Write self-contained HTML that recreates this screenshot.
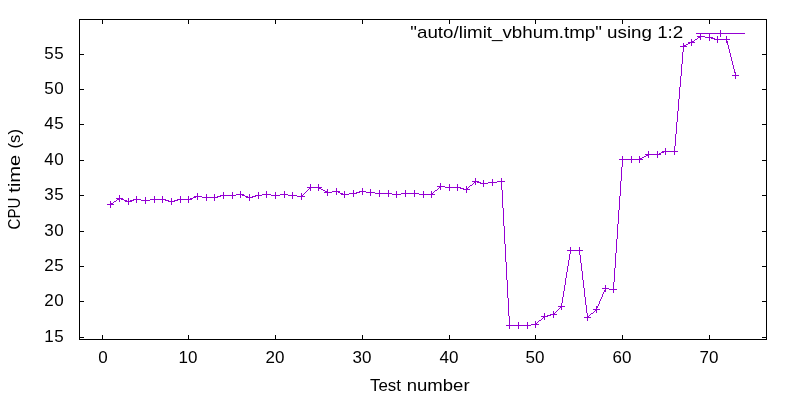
<!DOCTYPE html>
<html><head><meta charset="utf-8"><style>
html,body{margin:0;padding:0;background:#fff;}
svg{display:block;will-change:transform;}
text{font-family:"Liberation Sans",sans-serif;font-size:17px;fill:#000;}
</style></head><body>
<svg width="800" height="400" viewBox="0 0 800 400">
<rect width="800" height="400" fill="#fff"/>
<g shape-rendering="crispEdges" fill="none" stroke-width="1">
<path d="M79.5 19.5H766.5V339.5H79.5Z" stroke="#000"/>
<path d="M79 337.5h5M767 337.5h-5M79 301.5h5M767 301.5h-5M79 266.5h5M767 266.5h-5M79 231.5h5M767 231.5h-5M79 195.5h5M767 195.5h-5M79 160.5h5M767 160.5h-5M79 124.5h5M767 124.5h-5M79 89.5h5M767 89.5h-5M79 54.5h5M767 54.5h-5M102.5 340v-5M102.5 19v5M188.5 340v-5M188.5 19v5M275.5 340v-5M275.5 19v5M362.5 340v-5M362.5 19v5M449.5 340v-5M449.5 19v5M535.5 340v-5M535.5 19v5M622.5 340v-5M622.5 19v5M709.5 340v-5M709.5 19v5" stroke="#000"/>
</g>
<g><text x="44.3 54.3" y="341.85">15</text><text x="44.3 54.3" y="305.85">20</text><text x="44.3 54.3" y="270.85">25</text><text x="44.3 54.3" y="235.85">30</text><text x="44.3 54.3" y="199.85">35</text><text x="44.3 54.3" y="164.85">40</text><text x="44.3 54.3" y="128.85">45</text><text x="44.3 54.3" y="93.85">50</text><text x="44.3 54.3" y="58.85">55</text><text x="103.10" y="362.75" text-anchor="middle">0</text><text x="178.50 188.10" y="362.75">10</text><text x="265.50 275.10" y="362.75">20</text><text x="352.50 362.10" y="362.75">30</text><text x="439.50 449.10" y="362.75">40</text><text x="525.50 535.10" y="362.75">50</text><text x="612.50 622.10" y="362.75">60</text><text x="699.50 709.10" y="362.75">70</text></g>
<text x="370" y="390.7" textLength="31" lengthAdjust="spacingAndGlyphs">Test</text><text x="406.7" y="390.7" textLength="62.9" lengthAdjust="spacingAndGlyphs">number</text>
<text transform="translate(19.5,229.5) rotate(-90)" textLength="32" lengthAdjust="spacingAndGlyphs">CPU</text><text transform="translate(19.5,192.7) rotate(-90)" textLength="38" lengthAdjust="spacingAndGlyphs">time</text><text transform="translate(19.5,148.5) rotate(-90)" textLength="19.5" lengthAdjust="spacingAndGlyphs">(s)</text>
<text x="410.35" y="38" textLength="272.9" lengthAdjust="spacingAndGlyphs">"auto/limit_vbhum.tmp" using 1:2</text>
<g shape-rendering="crispEdges" fill="none" stroke="#9400d3" stroke-width="1">
<path d="M700 36h5v1h-5zM698 37h2v1h-2zM705 37h6v1h-6zM697 38h1v1h-1zM711 38h4v1h-4zM695 39h2v1h-2zM715 39h12v1h-12zM694 40h1v1h-1zM726 40h1v1h-1zM692 41h2v1h-2zM727 41h1v1h-1zM690 42h2v1h-2zM727 42h1v1h-1zM688 43h2v1h-2zM727 43h1v1h-1zM686 44h2v1h-2zM727 44h1v1h-1zM684 45h2v1h-2zM728 45h1v1h-1zM683 46h1v1h-1zM728 46h1v1h-1zM683 47h1v1h-1zM728 47h1v1h-1zM683 48h1v1h-1zM728 48h1v1h-1zM683 49h1v1h-1zM729 49h1v1h-1zM683 50h1v1h-1zM729 50h1v1h-1zM683 51h1v1h-1zM729 51h1v1h-1zM682 52h1v1h-1zM729 52h1v1h-1zM682 53h1v1h-1zM730 53h1v1h-1zM682 54h1v1h-1zM730 54h1v1h-1zM682 55h1v1h-1zM730 55h1v1h-1zM682 56h1v1h-1zM730 56h1v1h-1zM682 57h1v1h-1zM731 57h1v1h-1zM682 58h1v1h-1zM731 58h1v1h-1zM682 59h1v1h-1zM731 59h1v1h-1zM682 60h1v1h-1zM731 60h1v1h-1zM682 61h1v1h-1zM732 61h1v1h-1zM682 62h1v1h-1zM732 62h1v1h-1zM682 63h1v1h-1zM732 63h1v1h-1zM681 64h1v1h-1zM732 64h1v1h-1zM681 65h1v1h-1zM733 65h1v1h-1zM681 66h1v1h-1zM733 66h1v1h-1zM681 67h1v1h-1zM733 67h1v1h-1zM681 68h1v1h-1zM733 68h1v1h-1zM681 69h1v1h-1zM734 69h1v1h-1zM681 70h1v1h-1zM734 70h1v1h-1zM681 71h1v1h-1zM734 71h1v1h-1zM681 72h1v1h-1zM734 72h1v1h-1zM681 73h1v1h-1zM735 73h1v1h-1zM681 74h1v1h-1zM735 74h1v1h-1zM681 75h1v1h-1zM735 75h1v1h-1zM680 76h1v1h-1zM680 77h1v1h-1zM680 78h1v1h-1zM680 79h1v1h-1zM680 80h1v1h-1zM680 81h1v1h-1zM680 82h1v1h-1zM680 83h1v1h-1zM680 84h1v1h-1zM680 85h1v1h-1zM680 86h1v1h-1zM679 87h1v1h-1zM679 88h1v1h-1zM679 89h1v1h-1zM679 90h1v1h-1zM679 91h1v1h-1zM679 92h1v1h-1zM679 93h1v1h-1zM679 94h1v1h-1zM679 95h1v1h-1zM679 96h1v1h-1zM679 97h1v1h-1zM679 98h1v1h-1zM678 99h1v1h-1zM678 100h1v1h-1zM678 101h1v1h-1zM678 102h1v1h-1zM678 103h1v1h-1zM678 104h1v1h-1zM678 105h1v1h-1zM678 106h1v1h-1zM678 107h1v1h-1zM678 108h1v1h-1zM678 109h1v1h-1zM678 110h1v1h-1zM677 111h1v1h-1zM677 112h1v1h-1zM677 113h1v1h-1zM677 114h1v1h-1zM677 115h1v1h-1zM677 116h1v1h-1zM677 117h1v1h-1zM677 118h1v1h-1zM677 119h1v1h-1zM677 120h1v1h-1zM677 121h1v1h-1zM676 122h1v1h-1zM676 123h1v1h-1zM676 124h1v1h-1zM676 125h1v1h-1zM676 126h1v1h-1zM676 127h1v1h-1zM676 128h1v1h-1zM676 129h1v1h-1zM676 130h1v1h-1zM676 131h1v1h-1zM676 132h1v1h-1zM676 133h1v1h-1zM675 134h1v1h-1zM675 135h1v1h-1zM675 136h1v1h-1zM675 137h1v1h-1zM675 138h1v1h-1zM675 139h1v1h-1zM675 140h1v1h-1zM675 141h1v1h-1zM675 142h1v1h-1zM675 143h1v1h-1zM675 144h1v1h-1zM675 145h1v1h-1zM674 146h1v1h-1zM674 147h1v1h-1zM674 148h1v1h-1zM674 149h1v1h-1zM674 150h1v1h-1zM664 151h11v1h-11zM661 152h3v1h-3zM659 153h2v1h-2zM648 154h11v1h-11zM646 155h2v1h-2zM644 156h2v1h-2zM642 157h2v1h-2zM640 158h2v1h-2zM622 159h18v1h-18zM622 160h1v1h-1zM622 161h1v1h-1zM622 162h1v1h-1zM622 163h1v1h-1zM622 164h1v1h-1zM622 165h1v1h-1zM622 166h1v1h-1zM621 167h1v1h-1zM621 168h1v1h-1zM621 169h1v1h-1zM621 170h1v1h-1zM621 171h1v1h-1zM621 172h1v1h-1zM621 173h1v1h-1zM621 174h1v1h-1zM621 175h1v1h-1zM621 176h1v1h-1zM621 177h1v1h-1zM621 178h1v1h-1zM621 179h1v1h-1zM621 180h1v1h-1zM475 181h2v1h-2zM497 181h5v1h-5zM620 181h1v1h-1zM474 182h1v1h-1zM477 182h4v1h-4zM488 182h9v1h-9zM501 182h1v1h-1zM620 182h1v1h-1zM473 183h1v1h-1zM481 183h7v1h-7zM501 183h1v1h-1zM620 183h1v1h-1zM472 184h1v1h-1zM501 184h1v1h-1zM620 184h1v1h-1zM470 185h2v1h-2zM501 185h1v1h-1zM620 185h1v1h-1zM440 186h5v1h-5zM469 186h1v1h-1zM501 186h1v1h-1zM620 186h1v1h-1zM310 187h9v1h-9zM439 187h1v1h-1zM445 187h15v1h-15zM468 187h1v1h-1zM501 187h1v1h-1zM620 187h1v1h-1zM309 188h1v1h-1zM319 188h2v1h-2zM438 188h1v1h-1zM460 188h4v1h-4zM467 188h1v1h-1zM501 188h1v1h-1zM620 188h1v1h-1zM308 189h1v1h-1zM321 189h2v1h-2zM437 189h1v1h-1zM464 189h3v1h-3zM501 189h1v1h-1zM620 189h1v1h-1zM307 190h1v1h-1zM323 190h2v1h-2zM435 190h2v1h-2zM502 190h1v1h-1zM620 190h1v1h-1zM306 191h1v1h-1zM325 191h2v1h-2zM332 191h6v1h-6zM360 191h6v1h-6zM434 191h1v1h-1zM502 191h1v1h-1zM620 191h1v1h-1zM305 192h1v1h-1zM327 192h5v1h-5zM338 192h2v1h-2zM356 192h4v1h-4zM366 192h9v1h-9zM433 192h1v1h-1zM502 192h1v1h-1zM620 192h1v1h-1zM304 193h1v1h-1zM340 193h3v1h-3zM349 193h7v1h-7zM375 193h17v1h-17zM401 193h18v1h-18zM432 193h1v1h-1zM502 193h1v1h-1zM620 193h1v1h-1zM236 194h6v1h-6zM262 194h9v1h-9zM280 194h8v1h-8zM303 194h1v1h-1zM343 194h6v1h-6zM392 194h9v1h-9zM419 194h13v1h-13zM502 194h1v1h-1zM620 194h1v1h-1zM221 195h15v1h-15zM242 195h3v1h-3zM256 195h6v1h-6zM271 195h9v1h-9zM288 195h9v1h-9zM302 195h1v1h-1zM502 195h1v1h-1zM620 195h1v1h-1zM196 196h6v1h-6zM217 196h4v1h-4zM245 196h3v1h-3zM252 196h4v1h-4zM297 196h5v1h-5zM502 196h1v1h-1zM619 196h1v1h-1zM193 197h3v1h-3zM202 197h15v1h-15zM248 197h4v1h-4zM502 197h1v1h-1zM619 197h1v1h-1zM119 198h2v1h-2zM190 198h3v1h-3zM502 198h1v1h-1zM619 198h1v1h-1zM117 199h2v1h-2zM121 199h3v1h-3zM134 199h7v1h-7zM150 199h15v1h-15zM178 199h12v1h-12zM502 199h1v1h-1zM619 199h1v1h-1zM116 200h1v1h-1zM124 200h3v1h-3zM130 200h4v1h-4zM141 200h9v1h-9zM165 200h4v1h-4zM174 200h4v1h-4zM502 200h1v1h-1zM619 200h1v1h-1zM114 201h2v1h-2zM127 201h3v1h-3zM169 201h5v1h-5zM502 201h1v1h-1zM619 201h1v1h-1zM113 202h1v1h-1zM502 202h1v1h-1zM619 202h1v1h-1zM111 203h2v1h-2zM502 203h1v1h-1zM619 203h1v1h-1zM110 204h1v1h-1zM502 204h1v1h-1zM619 204h1v1h-1zM502 205h1v1h-1zM619 205h1v1h-1zM502 206h1v1h-1zM619 206h1v1h-1zM502 207h1v1h-1zM619 207h1v1h-1zM503 208h1v1h-1zM619 208h1v1h-1zM503 209h1v1h-1zM619 209h1v1h-1zM503 210h1v1h-1zM618 210h1v1h-1zM503 211h1v1h-1zM618 211h1v1h-1zM503 212h1v1h-1zM618 212h1v1h-1zM503 213h1v1h-1zM618 213h1v1h-1zM503 214h1v1h-1zM618 214h1v1h-1zM503 215h1v1h-1zM618 215h1v1h-1zM503 216h1v1h-1zM618 216h1v1h-1zM503 217h1v1h-1zM618 217h1v1h-1zM503 218h1v1h-1zM618 218h1v1h-1zM503 219h1v1h-1zM618 219h1v1h-1zM503 220h1v1h-1zM618 220h1v1h-1zM503 221h1v1h-1zM618 221h1v1h-1zM503 222h1v1h-1zM618 222h1v1h-1zM503 223h1v1h-1zM618 223h1v1h-1zM503 224h1v1h-1zM617 224h1v1h-1zM503 225h1v1h-1zM617 225h1v1h-1zM504 226h1v1h-1zM617 226h1v1h-1zM504 227h1v1h-1zM617 227h1v1h-1zM504 228h1v1h-1zM617 228h1v1h-1zM504 229h1v1h-1zM617 229h1v1h-1zM504 230h1v1h-1zM617 230h1v1h-1zM504 231h1v1h-1zM617 231h1v1h-1zM504 232h1v1h-1zM617 232h1v1h-1zM504 233h1v1h-1zM617 233h1v1h-1zM504 234h1v1h-1zM617 234h1v1h-1zM504 235h1v1h-1zM617 235h1v1h-1zM504 236h1v1h-1zM617 236h1v1h-1zM504 237h1v1h-1zM617 237h1v1h-1zM504 238h1v1h-1zM617 238h1v1h-1zM504 239h1v1h-1zM616 239h1v1h-1zM504 240h1v1h-1zM616 240h1v1h-1zM504 241h1v1h-1zM616 241h1v1h-1zM504 242h1v1h-1zM616 242h1v1h-1zM504 243h1v1h-1zM616 243h1v1h-1zM505 244h1v1h-1zM616 244h1v1h-1zM505 245h1v1h-1zM616 245h1v1h-1zM505 246h1v1h-1zM616 246h1v1h-1zM505 247h1v1h-1zM616 247h1v1h-1zM505 248h1v1h-1zM616 248h1v1h-1zM505 249h1v1h-1zM616 249h1v1h-1zM505 250h1v1h-1zM570 250h10v1h-10zM616 250h1v1h-1zM505 251h1v1h-1zM570 251h1v1h-1zM579 251h1v1h-1zM616 251h1v1h-1zM505 252h1v1h-1zM570 252h1v1h-1zM579 252h1v1h-1zM616 252h1v1h-1zM505 253h1v1h-1zM570 253h1v1h-1zM579 253h1v1h-1zM615 253h1v1h-1zM505 254h1v1h-1zM569 254h1v1h-1zM579 254h1v1h-1zM615 254h1v1h-1zM505 255h1v1h-1zM569 255h1v1h-1zM580 255h1v1h-1zM615 255h1v1h-1zM505 256h1v1h-1zM569 256h1v1h-1zM580 256h1v1h-1zM615 256h1v1h-1zM505 257h1v1h-1zM569 257h1v1h-1zM580 257h1v1h-1zM615 257h1v1h-1zM505 258h1v1h-1zM569 258h1v1h-1zM580 258h1v1h-1zM615 258h1v1h-1zM505 259h1v1h-1zM569 259h1v1h-1zM580 259h1v1h-1zM615 259h1v1h-1zM505 260h1v1h-1zM568 260h1v1h-1zM580 260h1v1h-1zM615 260h1v1h-1zM505 261h1v1h-1zM568 261h1v1h-1zM580 261h1v1h-1zM615 261h1v1h-1zM506 262h1v1h-1zM568 262h1v1h-1zM580 262h1v1h-1zM615 262h1v1h-1zM506 263h1v1h-1zM568 263h1v1h-1zM581 263h1v1h-1zM615 263h1v1h-1zM506 264h1v1h-1zM568 264h1v1h-1zM581 264h1v1h-1zM615 264h1v1h-1zM506 265h1v1h-1zM568 265h1v1h-1zM581 265h1v1h-1zM615 265h1v1h-1zM506 266h1v1h-1zM567 266h1v1h-1zM581 266h1v1h-1zM615 266h1v1h-1zM506 267h1v1h-1zM567 267h1v1h-1zM581 267h1v1h-1zM615 267h1v1h-1zM506 268h1v1h-1zM567 268h1v1h-1zM581 268h1v1h-1zM614 268h1v1h-1zM506 269h1v1h-1zM567 269h1v1h-1zM581 269h1v1h-1zM614 269h1v1h-1zM506 270h1v1h-1zM567 270h1v1h-1zM581 270h1v1h-1zM614 270h1v1h-1zM506 271h1v1h-1zM567 271h1v1h-1zM582 271h1v1h-1zM614 271h1v1h-1zM506 272h1v1h-1zM566 272h1v1h-1zM582 272h1v1h-1zM614 272h1v1h-1zM506 273h1v1h-1zM566 273h1v1h-1zM582 273h1v1h-1zM614 273h1v1h-1zM506 274h1v1h-1zM566 274h1v1h-1zM582 274h1v1h-1zM614 274h1v1h-1zM506 275h1v1h-1zM566 275h1v1h-1zM582 275h1v1h-1zM614 275h1v1h-1zM506 276h1v1h-1zM566 276h1v1h-1zM582 276h1v1h-1zM614 276h1v1h-1zM506 277h1v1h-1zM566 277h1v1h-1zM582 277h1v1h-1zM614 277h1v1h-1zM506 278h1v1h-1zM565 278h1v1h-1zM582 278h1v1h-1zM614 278h1v1h-1zM506 279h1v1h-1zM565 279h1v1h-1zM582 279h1v1h-1zM614 279h1v1h-1zM507 280h1v1h-1zM565 280h1v1h-1zM583 280h1v1h-1zM614 280h1v1h-1zM507 281h1v1h-1zM565 281h1v1h-1zM583 281h1v1h-1zM614 281h1v1h-1zM507 282h1v1h-1zM565 282h1v1h-1zM583 282h1v1h-1zM613 282h1v1h-1zM507 283h1v1h-1zM565 283h1v1h-1zM583 283h1v1h-1zM613 283h1v1h-1zM507 284h1v1h-1zM565 284h1v1h-1zM583 284h1v1h-1zM613 284h1v1h-1zM507 285h1v1h-1zM564 285h1v1h-1zM583 285h1v1h-1zM613 285h1v1h-1zM507 286h1v1h-1zM564 286h1v1h-1zM583 286h1v1h-1zM613 286h1v1h-1zM507 287h1v1h-1zM564 287h1v1h-1zM583 287h1v1h-1zM613 287h1v1h-1zM507 288h1v1h-1zM564 288h1v1h-1zM584 288h1v1h-1zM605 288h4v1h-4zM613 288h1v1h-1zM507 289h1v1h-1zM564 289h1v1h-1zM584 289h1v1h-1zM605 289h1v1h-1zM609 289h5v1h-5zM507 290h1v1h-1zM564 290h1v1h-1zM584 290h1v1h-1zM604 290h1v1h-1zM507 291h1v1h-1zM563 291h1v1h-1zM584 291h1v1h-1zM604 291h1v1h-1zM507 292h1v1h-1zM563 292h1v1h-1zM584 292h1v1h-1zM603 292h1v1h-1zM507 293h1v1h-1zM563 293h1v1h-1zM584 293h1v1h-1zM603 293h1v1h-1zM507 294h1v1h-1zM563 294h1v1h-1zM584 294h1v1h-1zM602 294h1v1h-1zM507 295h1v1h-1zM563 295h1v1h-1zM584 295h1v1h-1zM602 295h1v1h-1zM507 296h1v1h-1zM563 296h1v1h-1zM584 296h1v1h-1zM602 296h1v1h-1zM507 297h1v1h-1zM562 297h1v1h-1zM585 297h1v1h-1zM601 297h1v1h-1zM508 298h1v1h-1zM562 298h1v1h-1zM585 298h1v1h-1zM601 298h1v1h-1zM508 299h1v1h-1zM562 299h1v1h-1zM585 299h1v1h-1zM600 299h1v1h-1zM508 300h1v1h-1zM562 300h1v1h-1zM585 300h1v1h-1zM600 300h1v1h-1zM508 301h1v1h-1zM562 301h1v1h-1zM585 301h1v1h-1zM599 301h1v1h-1zM508 302h1v1h-1zM562 302h1v1h-1zM585 302h1v1h-1zM599 302h1v1h-1zM508 303h1v1h-1zM561 303h1v1h-1zM585 303h1v1h-1zM599 303h1v1h-1zM508 304h1v1h-1zM561 304h1v1h-1zM585 304h1v1h-1zM598 304h1v1h-1zM508 305h1v1h-1zM561 305h1v1h-1zM586 305h1v1h-1zM598 305h1v1h-1zM508 306h1v1h-1zM561 306h1v1h-1zM586 306h1v1h-1zM597 306h1v1h-1zM508 307h1v1h-1zM560 307h1v1h-1zM586 307h1v1h-1zM597 307h1v1h-1zM508 308h1v1h-1zM559 308h1v1h-1zM586 308h1v1h-1zM596 308h1v1h-1zM508 309h1v1h-1zM558 309h1v1h-1zM586 309h1v1h-1zM596 309h1v1h-1zM508 310h1v1h-1zM557 310h1v1h-1zM586 310h1v1h-1zM595 310h1v1h-1zM508 311h1v1h-1zM556 311h1v1h-1zM586 311h1v1h-1zM594 311h1v1h-1zM508 312h1v1h-1zM555 312h1v1h-1zM586 312h1v1h-1zM593 312h1v1h-1zM508 313h1v1h-1zM554 313h1v1h-1zM587 313h1v1h-1zM591 313h2v1h-2zM508 314h1v1h-1zM551 314h3v1h-3zM587 314h1v1h-1zM590 314h1v1h-1zM508 315h1v1h-1zM547 315h4v1h-4zM587 315h1v1h-1zM589 315h1v1h-1zM509 316h1v1h-1zM544 316h3v1h-3zM587 316h2v1h-2zM509 317h1v1h-1zM543 317h1v1h-1zM587 317h1v1h-1zM509 318h1v1h-1zM542 318h1v1h-1zM509 319h1v1h-1zM541 319h1v1h-1zM509 320h1v1h-1zM539 320h2v1h-2zM509 321h1v1h-1zM538 321h1v1h-1zM509 322h1v1h-1zM537 322h1v1h-1zM509 323h1v1h-1zM536 323h1v1h-1zM509 324h1v1h-1zM531 324h5v1h-5zM509 325h22v1h-22z" fill="#9400d3" stroke="none"/>
<path d="M696 33.5H745"/>
<path d="M107 204.5h7M110.5 201v7M116 198.5h7M119.5 195v7M125 201.5h7M128.5 198v7M133 199.5h7M136.5 196v7M142 200.5h7M145.5 197v7M151 199.5h7M154.5 196v7M159 199.5h7M162.5 196v7M168 201.5h7M171.5 198v7M177 199.5h7M180.5 196v7M185 199.5h7M188.5 196v7M194 196.5h7M197.5 193v7M203 197.5h7M206.5 194v7M211 197.5h7M214.5 194v7M220 195.5h7M223.5 192v7M229 195.5h7M232.5 192v7M237 194.5h7M240.5 191v7M246 197.5h7M249.5 194v7M255 195.5h7M258.5 192v7M263 194.5h7M266.5 191v7M272 195.5h7M275.5 192v7M281 194.5h7M284.5 191v7M289 195.5h7M292.5 192v7M298 196.5h7M301.5 193v7M307 187.5h7M310.5 184v7M315 187.5h7M318.5 184v7M324 192.5h7M327.5 189v7M333 191.5h7M336.5 188v7M341 194.5h7M344.5 191v7M350 193.5h7M353.5 190v7M359 191.5h7M362.5 188v7M367 192.5h7M370.5 189v7M376 193.5h7M379.5 190v7M385 193.5h7M388.5 190v7M393 194.5h7M396.5 191v7M402 193.5h7M405.5 190v7M411 193.5h7M414.5 190v7M420 194.5h7M423.5 191v7M428 194.5h7M431.5 191v7M437 186.5h7M440.5 183v7M446 187.5h7M449.5 184v7M454 187.5h7M457.5 184v7M463 189.5h7M466.5 186v7M472 181.5h7M475.5 178v7M480 183.5h7M483.5 180v7M489 182.5h7M492.5 179v7M498 181.5h7M501.5 178v7M506 325.5h7M509.5 322v7M515 325.5h7M518.5 322v7M524 325.5h7M527.5 322v7M532 324.5h7M535.5 321v7M541 316.5h7M544.5 313v7M550 314.5h7M553.5 311v7M558 306.5h7M561.5 303v7M567 250.5h7M570.5 247v7M576 250.5h7M579.5 247v7M584 317.5h7M587.5 314v7M593 309.5h7M596.5 306v7M602 288.5h7M605.5 285v7M610 289.5h7M613.5 286v7M619 159.5h7M622.5 156v7M628 159.5h7M631.5 156v7M636 159.5h7M639.5 156v7M645 154.5h7M648.5 151v7M654 154.5h7M657.5 151v7M662 151.5h7M665.5 148v7M671 151.5h7M674.5 148v7M680 46.5h7M683.5 43v7M688 42.5h7M691.5 39v7M697 36.5h7M700.5 33v7M706 37.5h7M709.5 34v7M714 39.5h7M717.5 36v7M723 39.5h7M726.5 36v7M732 75.5h7M735.5 72v7M717 33.5h7M720.5 30v7"/>
</g>
</svg>
</body></html>
